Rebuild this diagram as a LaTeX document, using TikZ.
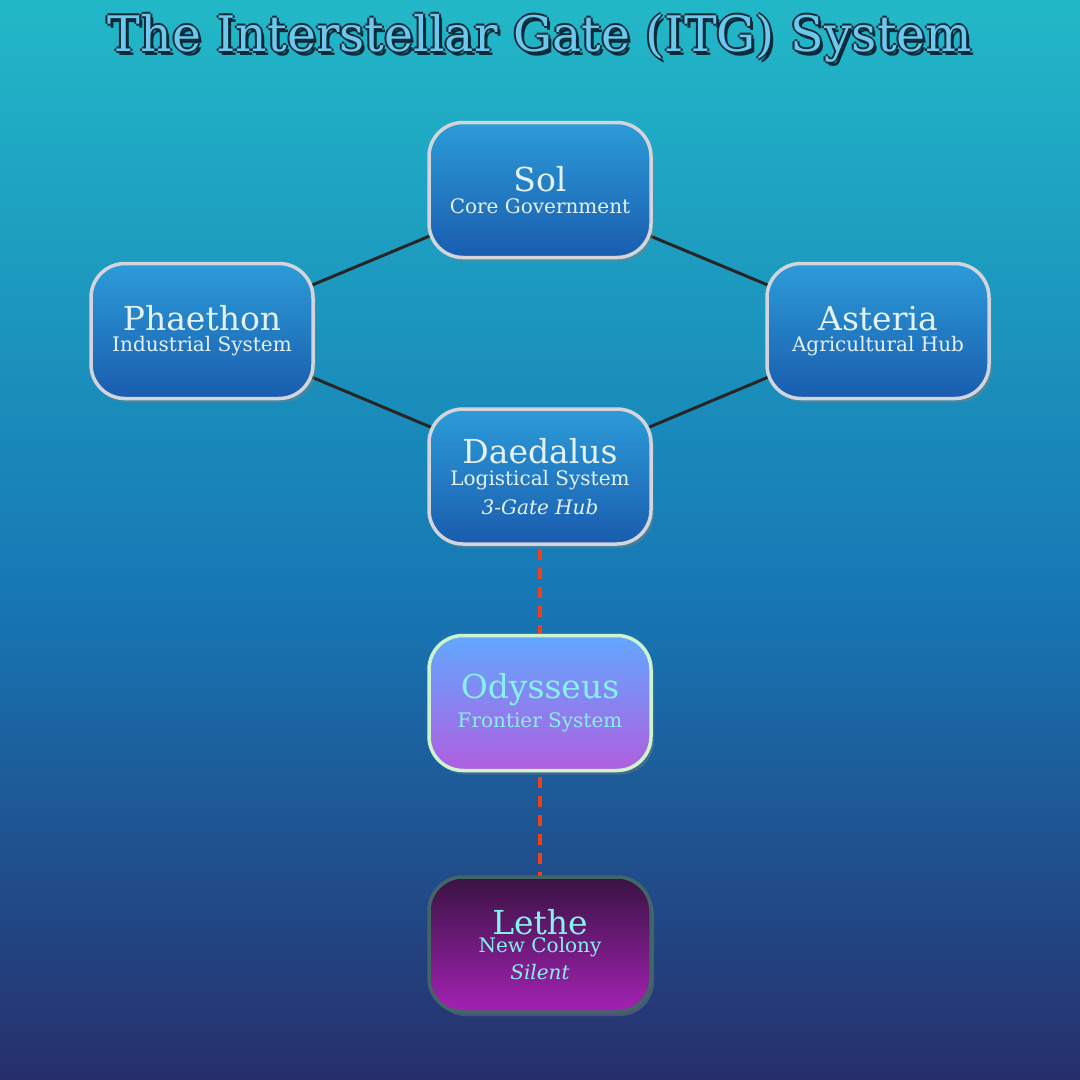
\documentclass[tikz,border=0pt]{standalone}
\usepackage{fontspec}
\setmainfont{DejaVu Serif}
\usepackage{tikz}
\usetikzlibrary{positioning,shadows}

\definecolor{bgtop}{HTML}{22B8C8}
\definecolor{bgmid}{HTML}{1677B4}
\definecolor{bgbot}{HTML}{282E6C}
\definecolor{boxtop}{HTML}{2C9CD8}
\definecolor{boxbot}{HTML}{1A5CAE}
\definecolor{frontop}{HTML}{62A8FF}
\definecolor{fronbot}{HTML}{B05EE0}
\definecolor{lethtop}{HTML}{3A1242}
\definecolor{lethbot}{HTML}{A422B4}
\definecolor{boxline}{HTML}{D4D4DC}
\definecolor{labtext}{HTML}{E4F2F8}
\definecolor{cyantext}{HTML}{86F2F0}
\definecolor{titletext}{HTML}{6CC8EC}
\definecolor{titleline}{HTML}{0C2A3A}
\definecolor{linkred}{HTML}{F0401A}

\begin{document}
\begin{tikzpicture}[x=1pt,y=-1pt]
 \tikzstyle{system} = [rounded corners=34pt,minimum width=222pt,minimum height=135pt,
   line width=3.5pt,draw=boxline,top color=boxtop,bottom color=boxbot,
   text=labtext,align=center,inner sep=0pt,
   drop shadow={shadow xshift=3pt,shadow yshift=-4pt,opacity=0.4}];
 \tikzstyle{frontier} = [top color=frontop,bottom color=fronbot,draw=boxline!60!green!40,text=cyantext];
 \tikzstyle{colony} = [top color=lethtop,bottom color=lethbot,draw=black!40!teal!50!gray,text=cyantext];
 \tikzstyle{gate} = [line width=3pt,draw=black!85];
 \tikzstyle{quiet} = [line width=3.5pt,draw=linkred,dash pattern=on 11pt off 8pt];
 \newcommand{\sysname}[1]{{\fontsize{33}{38}\selectfont #1}}
 \newcommand{\sysrole}[1]{{\fontsize{20}{24}\selectfont #1}}

 % backdrop
 \shade[top color=bgtop,bottom color=bgmid] (0,0) rectangle (1080,600);
 \shade[top color=bgmid,bottom color=bgbot] (0,600) rectangle (1080,1080);
 \useasboundingbox (0,0) rectangle (1080,1080);

 % title with outline
 \foreach \dx/\dy in {-2/0,2/0,0/-2,0/2,3/4}
  \node[text=titleline,font=\fontsize{49}{54}\selectfont] at (540+\dx,38+\dy) {The Interstellar Gate (ITG) System};
 \node[name=title,text=titletext,font=\fontsize{49}{54}\selectfont] at (540,38) {The Interstellar Gate (ITG) System};

 % gates
 \draw[gate] (540,190) -- (202,331) -- (540,473) -- (878,331) -- cycle;
 \draw[quiet] (540,473) -- (540,934);

 % systems
 \node[system,name=sol] at (540,190) {\sysname{Sol}\\[6pt]\sysrole{Core Government}};
 \node[system,name=phaethon] at (202,331) {\sysname{Phaethon}\\[4pt]\sysrole{Industrial System}};
 \node[system,name=asteria] at (878,331) {\sysname{Asteria}\\[4pt]\sysrole{Agricultural Hub}};
 \node[system,name=daedalus,below=148pt of sol] {\sysname{Daedalus}\\[6pt]\sysrole{Logistical System}\\[8pt]\sysrole{\itshape 3-Gate Hub}};
 \node[system,frontier,name=odysseus,below=88pt of daedalus] {\sysname{Odysseus}\\[6pt]\sysrole{Frontier System}};
 \node[system,colony,name=lethe,below=103pt of odysseus] {\sysname{Lethe}\\[2pt]\sysrole{New Colony}\\[6pt]\sysrole{\itshape Silent}};
\end{tikzpicture}
\end{document}
